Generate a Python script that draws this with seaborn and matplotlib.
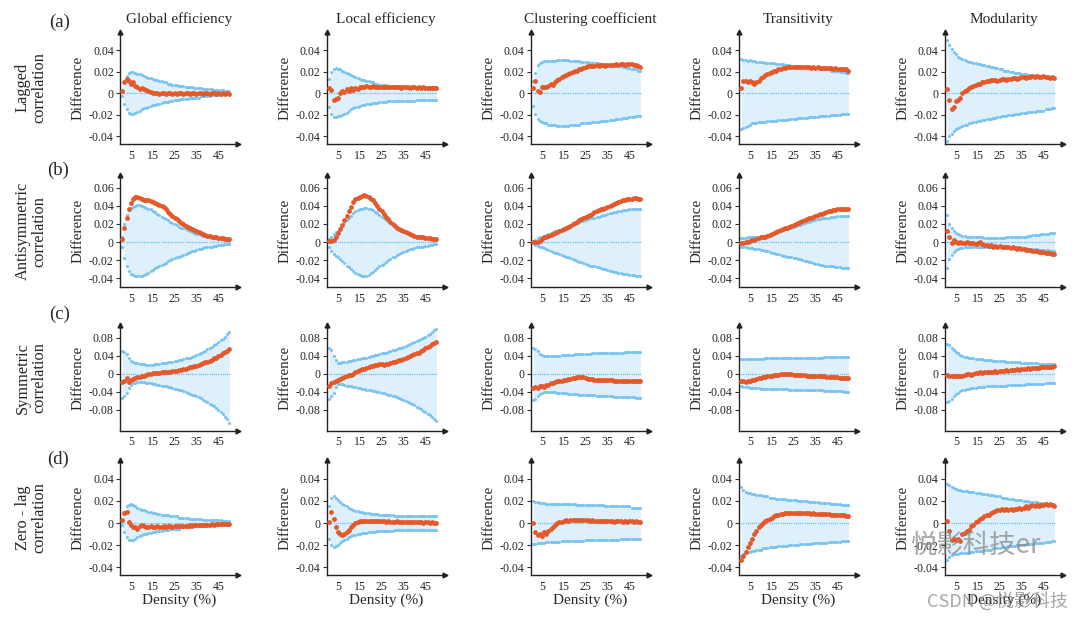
import seaborn as sns
import matplotlib.pyplot as plt

# density (%) on the x axis
density = list(range(1, 51))
null_mean = [0.0] * 50

# (a) lagged correlation
lag_ge_up = [.003,.010,.016,.019,.020,.020,.019,.018,.018,.017,.016,.015,.014,.014,.013,.012,.012,.011,.011,.010,
             .010,.009,.009,.008,.008,.008,.007,.007,.007,.006,.006,.006,.006,.005,.005,.005,.005,.004,.004,.004,
             .004,.004,.003,.003,.003,.003,.003,.002,.002,.002]
lag_ge_lo = [-.003,-.010,-.015,-.018,-.019,-.019,-.018,-.017,-.016,-.015,-.014,-.014,-.013,-.012,-.011,-.011,-.010,-.010,-.009,-.008,
             -.008,-.008,-.007,-.007,-.006,-.006,-.006,-.005,-.005,-.005,-.005,-.004,-.004,-.004,-.004,-.004,-.003,-.003,-.003,-.003,
             -.003,-.002,-.002,-.002,-.002,-.002,-.001,-.001,-.001,-.001]
lag_ge_obs = [.002,.010,.013,.011,.009,.010,.007,.006,.004,.005,.004,.003,.002,.001,.000,.000,.000,-.001,.000,.000,
              -.001,.000,.000,-.001,.000,-.001,.000,.000,-.001,.000,.000,-.001,.000,.000,-.001,.000,.000,-.001,.000,.000,
              -.001,.000,.000,-.001,.000,-.001,.000,-.001,.000,-.001]

lag_le_up = [.013,.020,.022,.023,.022,.022,.021,.020,.019,.018,.017,.016,.015,.014,.013,.012,.012,.011,.011,.010,
             .010,.009,.009,.008,.008,.008,.008,.007,.007,.007,.007,.007,.007,.007,.007,.006,.006,.006,.006,.006,
             .006,.006,.006,.006,.006,.006,.006,.006,.006,.006]
lag_le_lo = [-.013,-.019,-.022,-.022,-.021,-.021,-.020,-.019,-.018,-.016,-.015,-.014,-.013,-.013,-.012,-.011,-.011,-.010,-.010,-.010,
             -.009,-.009,-.009,-.008,-.008,-.008,-.008,-.007,-.007,-.007,-.007,-.007,-.007,-.007,-.007,-.007,-.007,-.007,-.007,-.007,
             -.006,-.006,-.006,-.006,-.006,-.006,-.006,-.006,-.006,-.006]
lag_le_obs = [.005,.003,-.006,-.005,-.004,.000,.002,.001,.004,.002,.005,.003,.005,.004,.006,.006,.006,.007,.006,.006,
              .007,.006,.006,.006,.006,.006,.006,.006,.006,.006,.006,.006,.006,.005,.006,.006,.006,.005,.006,.006,
              .005,.006,.005,.006,.005,.005,.005,.005,.005,.005]

lag_cc_up = [.011,.019,.026,.028,.029,.030,.030,.030,.030,.030,.030,.031,.031,.031,.031,.031,.031,.030,.030,.030,
             .030,.030,.029,.029,.029,.029,.028,.028,.028,.028,.028,.027,.027,.027,.027,.026,.026,.026,.025,.025,
             .025,.024,.024,.023,.023,.022,.022,.022,.021,.021]
lag_cc_lo = [-.012,-.019,-.024,-.026,-.027,-.028,-.028,-.029,-.029,-.029,-.029,-.030,-.030,-.030,-.030,-.030,-.030,-.029,-.029,-.029,
             -.029,-.029,-.028,-.028,-.028,-.028,-.028,-.027,-.027,-.027,-.027,-.026,-.026,-.026,-.026,-.025,-.025,-.025,-.024,-.024,
             -.024,-.023,-.023,-.023,-.022,-.022,-.022,-.021,-.021,-.021]
lag_cc_obs = [.005,.011,.002,.001,.006,.006,.006,.007,.009,.008,.010,.012,.013,.015,.016,.017,.018,.019,.020,.021,
              .021,.022,.022,.023,.024,.025,.025,.025,.025,.026,.025,.026,.026,.025,.026,.026,.026,.026,.027,.026,
              .027,.027,.026,.027,.027,.027,.026,.026,.025,.024]

lag_tr_up = [.032,.031,.031,.030,.031,.030,.030,.029,.029,.029,.029,.028,.028,.028,.028,.028,.027,.027,.027,.027,
             .026,.026,.026,.025,.025,.025,.025,.024,.024,.024,.024,.023,.023,.023,.023,.023,.022,.022,.022,.022,
             .022,.021,.021,.021,.021,.020,.020,.020,.019,.019]
lag_tr_lo = [-.033,-.032,-.031,-.030,-.029,-.028,-.028,-.028,-.027,-.027,-.027,-.027,-.026,-.026,-.026,-.026,-.026,-.025,-.025,-.025,
             -.025,-.025,-.024,-.024,-.024,-.024,-.023,-.023,-.023,-.023,-.023,-.022,-.022,-.022,-.022,-.022,-.021,-.021,-.021,-.021,
             -.021,-.020,-.020,-.020,-.020,-.020,-.019,-.019,-.019,-.019]
lag_tr_obs = [.005,.011,.011,.010,.011,.010,.009,.010,.011,.014,.015,.017,.018,.019,.020,.021,.021,.022,.022,.023,
              .023,.024,.024,.024,.024,.024,.024,.024,.024,.024,.024,.024,.023,.024,.023,.024,.023,.023,.023,.023,
              .023,.023,.022,.023,.022,.022,.022,.022,.022,.021]

lag_mo_up = [.049,.045,.041,.038,.036,.034,.033,.032,.031,.030,.029,.029,.028,.028,.027,.027,.026,.026,.025,.025,
             .024,.024,.023,.023,.022,.022,.021,.021,.021,.020,.020,.019,.019,.019,.018,.018,.018,.017,.017,.017,
             .017,.016,.016,.016,.016,.015,.015,.015,.014,.014]
lag_mo_lo = [-.044,-.040,-.038,-.035,-.033,-.032,-.031,-.030,-.029,-.029,-.028,-.028,-.027,-.027,-.026,-.026,-.025,-.025,-.024,-.024,
             -.024,-.023,-.023,-.022,-.022,-.021,-.021,-.021,-.020,-.020,-.020,-.019,-.019,-.019,-.018,-.018,-.018,-.017,-.017,-.017,
             -.017,-.016,-.016,-.016,-.016,-.015,-.015,-.015,-.014,-.014]
lag_mo_obs = [.004,-.006,-.015,-.013,-.007,-.006,-.004,.000,.002,.003,.005,.006,.007,.008,.009,.009,.010,.010,.011,.011,
              .012,.012,.012,.011,.012,.013,.013,.012,.013,.013,.014,.014,.013,.014,.015,.015,.014,.015,.015,.016,
              .015,.016,.015,.015,.016,.015,.015,.014,.015,.014]

# (b) antisymmetric correlation
anti_ge_up = [.005,.020,.030,.035,.038,.039,.040,.041,.041,.040,.039,.038,.037,.036,.034,.033,.031,.030,.028,.027,
              .025,.024,.022,.021,.020,.019,.017,.016,.015,.014,.013,.012,.011,.010,.009,.009,.008,.007,.007,.006,
              .005,.005,.004,.004,.003,.003,.003,.002,.002,.001]
anti_ge_lo = [-.005,-.018,-.026,-.032,-.035,-.036,-.037,-.038,-.038,-.037,-.036,-.035,-.034,-.032,-.031,-.029,-.028,-.027,-.025,-.024,
              -.023,-.021,-.020,-.019,-.018,-.017,-.016,-.015,-.014,-.013,-.012,-.011,-.010,-.010,-.009,-.008,-.008,-.007,-.006,-.006,
              -.005,-.005,-.004,-.004,-.003,-.003,-.003,-.002,-.002,-.002]
anti_ge_obs = [.003,.016,.026,.037,.043,.048,.050,.050,.049,.047,.046,.046,.046,.045,.044,.043,.042,.041,.040,.039,
               .036,.033,.031,.029,.027,.025,.023,.021,.020,.018,.017,.015,.014,.013,.012,.011,.010,.009,.008,.007,
               .007,.006,.005,.005,.004,.004,.004,.003,.003,.003]

anti_le_up = [.003,.006,.009,.011,.012,.015,.018,.021,.024,.027,.029,.032,.034,.035,.036,.037,.038,.038,.037,.036,
              .035,.033,.032,.030,.028,.026,.024,.023,.021,.019,.018,.016,.015,.013,.012,.011,.010,.009,.008,.007,
              .007,.006,.005,.005,.004,.004,.003,.003,.002,.002]
anti_le_lo = [-.006,-.010,-.013,-.015,-.016,-.019,-.021,-.023,-.026,-.028,-.030,-.032,-.034,-.035,-.036,-.037,-.037,-.037,-.036,-.034,
              -.033,-.031,-.029,-.027,-.025,-.024,-.022,-.020,-.019,-.017,-.016,-.014,-.013,-.012,-.011,-.010,-.009,-.008,-.008,-.007,
              -.006,-.006,-.005,-.005,-.004,-.004,-.003,-.003,-.002,-.002]
anti_le_obs = [.001,.001,.002,.006,.010,.014,.019,.024,.029,.034,.039,.044,.047,.049,.050,.051,.052,.051,.050,.048,
               .046,.043,.040,.037,.034,.031,.028,.025,.022,.020,.018,.016,.014,.013,.012,.011,.010,.009,.008,.007,
               .006,.006,.005,.005,.004,.004,.004,.003,.003,.003]

anti_cc_up = [.000,.002,.004,.005,.006,.007,.008,.009,.010,.011,.012,.012,.013,.014,.015,.016,.017,.018,.020,.021,
              .021,.022,.023,.023,.024,.025,.026,.026,.027,.028,.028,.029,.030,.030,.031,.032,.032,.033,.033,.034,
              .034,.035,.035,.035,.036,.036,.036,.037,.037,.037]
anti_cc_lo = [-.001,-.003,-.004,-.005,-.006,-.007,-.008,-.009,-.010,-.011,-.012,-.012,-.013,-.014,-.015,-.016,-.017,-.018,-.019,-.020,
              -.021,-.022,-.022,-.023,-.024,-.025,-.026,-.026,-.027,-.028,-.028,-.029,-.030,-.030,-.031,-.032,-.032,-.033,-.033,-.034,
              -.034,-.035,-.035,-.035,-.036,-.036,-.036,-.037,-.037,-.037]
anti_cc_obs = [.000,.000,.000,.001,.003,.005,.006,.007,.008,.009,.010,.011,.012,.013,.014,.015,.017,.018,.020,.021,
               .022,.024,.025,.026,.028,.029,.030,.031,.033,.034,.035,.036,.037,.038,.039,.040,.041,.042,.043,.044,
               .045,.046,.046,.047,.047,.048,.049,.049,.048,.048]

anti_tr_up = [.004,.004,.004,.005,.005,.005,.006,.006,.006,.007,.007,.007,.008,.008,.009,.010,.010,.011,.012,.013,
              .014,.014,.015,.016,.017,.018,.019,.019,.020,.021,.022,.022,.023,.024,.024,.025,.025,.026,.026,.027,
              .027,.028,.028,.028,.029,.029,.029,.029,.029,.029]
anti_tr_lo = [-.006,-.006,-.006,-.007,-.007,-.007,-.008,-.008,-.008,-.009,-.009,-.010,-.010,-.011,-.012,-.012,-.013,-.013,-.014,-.015,
              -.015,-.016,-.016,-.017,-.018,-.018,-.019,-.019,-.020,-.021,-.021,-.022,-.022,-.023,-.024,-.024,-.025,-.025,-.026,-.026,
              -.026,-.027,-.027,-.028,-.028,-.028,-.029,-.029,-.029,-.029]
anti_tr_obs = [-.001,-.001,.000,.000,.001,.002,.002,.003,.004,.005,.006,.006,.007,.008,.009,.010,.011,.012,.013,.014,
               .015,.016,.017,.018,.019,.020,.021,.022,.023,.024,.025,.026,.027,.028,.029,.030,.031,.031,.032,.033,
               .034,.034,.035,.035,.036,.036,.037,.037,.036,.036]

anti_mo_up = [.030,.020,.015,.012,.010,.009,.008,.007,.007,.006,.006,.006,.005,.005,.005,.005,.005,.004,.004,.004,
              .004,.004,.004,.004,.004,.004,.004,.005,.005,.005,.005,.005,.005,.006,.006,.006,.006,.007,.007,.008,
              .008,.008,.008,.009,.009,.009,.009,.010,.010,.010]
anti_mo_lo = [-.029,-.019,-.014,-.011,-.009,-.008,-.007,-.007,-.006,-.006,-.006,-.006,-.005,-.005,-.005,-.005,-.005,-.005,-.005,-.005,
              -.005,-.005,-.005,-.005,-.005,-.005,-.005,-.006,-.006,-.006,-.006,-.006,-.006,-.007,-.007,-.007,-.007,-.008,-.008,-.008,
              -.008,-.008,-.009,-.009,-.009,-.009,-.009,-.010,-.010,-.010]
anti_mo_obs = [.012,.005,-.001,.002,.000,-.001,.000,-.001,-.001,.000,-.001,-.001,-.001,-.002,-.001,.000,-.002,-.003,-.003,-.004,
               -.003,-.005,-.004,-.005,-.004,-.006,-.005,-.006,-.006,-.007,-.006,-.007,-.008,-.007,-.008,-.008,-.009,-.009,-.009,-.010,
               -.010,-.010,-.011,-.011,-.011,-.012,-.012,-.012,-.013,-.013]

# (c) symmetric correlation
sym_ge_up = [.050,.048,.043,.035,.028,.025,.024,.023,.022,.021,.021,.020,.020,.020,.020,.021,.021,.022,.023,.024,
             .024,.025,.026,.027,.028,.029,.030,.031,.032,.034,.035,.036,.038,.040,.042,.044,.046,.048,.051,.054,
             .057,.060,.063,.066,.070,.074,.078,.082,.087,.092]
sym_ge_lo = [-.054,-.050,-.043,-.032,-.024,-.021,-.020,-.019,-.019,-.019,-.019,-.020,-.020,-.021,-.022,-.023,-.024,-.025,-.026,-.027,
             -.028,-.029,-.030,-.031,-.033,-.034,-.035,-.036,-.038,-.040,-.042,-.044,-.046,-.048,-.050,-.052,-.054,-.057,-.060,-.063,
             -.066,-.069,-.072,-.076,-.080,-.085,-.090,-.095,-.101,-.108]
sym_ge_obs = [-.018,-.015,-.010,-.018,-.014,-.012,-.010,-.008,-.007,-.005,-.004,-.002,-.001,.000,.001,.001,.002,.002,.003,.003,
              .004,.004,.005,.006,.006,.007,.008,.009,.010,.011,.013,.014,.015,.017,.018,.020,.021,.023,.025,.027,
              .029,.031,.034,.036,.039,.042,.045,.048,.051,.055]

sym_le_up = [.057,.053,.040,.030,.024,.024,.025,.026,.027,.028,.029,.030,.031,.032,.033,.034,.035,.036,.038,.039,
             .040,.041,.042,.044,.045,.046,.047,.049,.050,.052,.053,.055,.056,.058,.060,.062,.064,.066,.068,.070,
             .072,.074,.076,.079,.082,.085,.088,.092,.096,.100]
sym_le_lo = [-.055,-.050,-.042,-.030,-.022,-.022,-.023,-.024,-.026,-.027,-.028,-.029,-.030,-.031,-.032,-.033,-.034,-.035,-.036,-.037,
             -.038,-.039,-.040,-.041,-.042,-.043,-.045,-.046,-.047,-.049,-.050,-.052,-.054,-.056,-.058,-.060,-.062,-.065,-.067,-.070,
             -.073,-.076,-.079,-.082,-.085,-.089,-.092,-.096,-.100,-.105]
sym_le_obs = [-.026,-.020,-.018,-.015,-.013,-.012,-.009,-.007,-.005,-.003,-.002,.000,.004,.006,.008,.010,.011,.013,.015,.017,
              .018,.019,.020,.021,.022,.020,.021,.022,.024,.025,.026,.028,.030,.031,.033,.035,.037,.039,.041,.043,
              .045,.047,.050,.053,.056,.059,.062,.065,.068,.071]

sym_cc_up = [.057,.055,.050,.044,.041,.040,.039,.039,.039,.040,.040,.040,.040,.041,.041,.041,.042,.042,.042,.043,
             .043,.043,.043,.044,.044,.044,.044,.045,.045,.045,.045,.045,.046,.046,.046,.046,.046,.047,.047,.047,
             .047,.047,.048,.048,.048,.048,.048,.049,.049,.049]
sym_cc_lo = [-.059,-.055,-.050,-.045,-.042,-.041,-.040,-.040,-.041,-.041,-.041,-.042,-.042,-.042,-.043,-.043,-.044,-.044,-.044,-.045,
             -.045,-.046,-.046,-.046,-.047,-.047,-.048,-.048,-.048,-.049,-.049,-.049,-.049,-.050,-.050,-.050,-.050,-.051,-.051,-.051,
             -.051,-.051,-.052,-.052,-.052,-.052,-.052,-.053,-.053,-.053]
sym_cc_obs = [-.032,-.030,-.031,-.028,-.027,-.029,-.025,-.024,-.021,-.020,-.019,-.017,-.016,-.015,-.014,-.013,-.012,-.011,-.010,-.009,
              -.008,-.008,-.008,-.008,-.009,-.011,-.012,-.012,-.013,-.013,-.013,-.013,-.014,-.014,-.014,-.014,-.014,-.015,-.015,-.015,
              -.015,-.015,-.016,-.016,-.016,-.016,-.016,-.017,-.017,-.017]

sym_tr_up = [.033,.033,.033,.033,.033,.033,.033,.033,.033,.033,.033,.034,.034,.034,.034,.034,.034,.034,.034,.034,
             .034,.034,.034,.034,.035,.035,.035,.035,.035,.035,.035,.035,.036,.036,.036,.036,.036,.036,.037,.037,
             .037,.037,.037,.037,.038,.038,.038,.038,.038,.038]
sym_tr_lo = [-.028,-.029,-.030,-.030,-.031,-.031,-.032,-.032,-.032,-.033,-.033,-.033,-.033,-.033,-.033,-.034,-.034,-.034,-.034,-.034,
             -.034,-.034,-.035,-.035,-.035,-.035,-.035,-.035,-.036,-.036,-.036,-.036,-.036,-.037,-.037,-.037,-.037,-.037,-.038,-.038,
             -.038,-.038,-.039,-.039,-.039,-.039,-.039,-.040,-.040,-.040]
sym_tr_obs = [-.015,-.017,-.018,-.016,-.015,-.014,-.013,-.011,-.010,-.009,-.008,-.007,-.006,-.005,-.004,-.003,-.002,-.002,-.001,-.001,
              -.001,-.001,-.001,-.001,-.002,-.002,-.002,-.003,-.003,-.003,-.004,-.004,-.004,-.005,-.005,-.005,-.006,-.006,-.006,-.007,
              -.007,-.007,-.008,-.008,-.008,-.009,-.009,-.009,-.009,-.010]

sym_mo_up = [.067,.063,.058,.053,.048,.045,.042,.040,.038,.037,.036,.035,.034,.033,.033,.032,.032,.031,.031,.030,
             .030,.029,.029,.029,.028,.028,.028,.027,.027,.026,.026,.026,.025,.025,.024,.024,.024,.024,.023,.023,
             .023,.023,.022,.022,.022,.022,.021,.021,.021,.021]
sym_mo_lo = [-.063,-.060,-.055,-.050,-.045,-.042,-.039,-.037,-.035,-.034,-.033,-.032,-.031,-.031,-.030,-.030,-.029,-.029,-.028,-.028,
             -.028,-.027,-.027,-.027,-.026,-.026,-.026,-.026,-.025,-.025,-.025,-.025,-.024,-.024,-.024,-.024,-.023,-.023,-.023,-.023,
             -.023,-.022,-.022,-.022,-.022,-.021,-.021,-.021,-.020,-.020]
sym_mo_obs = [-.002,-.005,-.006,-.006,-.006,-.005,-.004,-.004,-.003,.000,-.001,-.002,.000,.002,.001,.003,.002,.004,.003,.005,
              .004,.005,.006,.005,.006,.007,.006,.008,.007,.008,.009,.008,.010,.009,.011,.010,.011,.012,.011,.012,
              .013,.012,.013,.014,.014,.015,.015,.016,.016,.017]

# (d) zero-lag correlation
zero_ge_up = [.002,.010,.015,.016,.017,.016,.015,.014,.013,.012,.012,.011,.010,.010,.009,.009,.008,.008,.007,.007,
              .007,.007,.006,.006,.006,.006,.005,.005,.005,.005,.005,.004,.004,.004,.004,.004,.004,.003,.003,.003,
              .003,.003,.003,.003,.003,.003,.002,.002,.002,.002]
zero_ge_lo = [-.002,-.008,-.013,-.015,-.015,-.015,-.014,-.013,-.012,-.011,-.010,-.010,-.009,-.009,-.008,-.008,-.007,-.007,-.007,-.006,
              -.006,-.006,-.005,-.005,-.005,-.005,-.005,-.004,-.004,-.004,-.004,-.004,-.003,-.003,-.003,-.003,-.003,-.003,-.002,-.002,
              -.002,-.002,-.002,-.002,-.002,-.002,-.001,-.001,-.001,-.001]
zero_ge_obs = [.003,.009,.010,.001,-.002,-.004,-.004,-.005,-.003,-.002,-.003,-.004,-.004,-.003,-.004,-.004,-.003,-.004,-.004,-.003,
               -.004,-.003,-.003,-.004,-.003,-.003,-.003,-.003,-.003,-.003,-.003,-.002,-.003,-.002,-.002,-.002,-.002,-.002,-.002,-.002,
               -.002,-.001,-.002,-.001,-.001,-.001,-.001,-.001,-.001,-.001]

zero_le_up = [.015,.023,.024,.023,.021,.019,.017,.016,.015,.014,.013,.012,.011,.011,.010,.010,.009,.009,.009,.008,
              .008,.008,.008,.007,.007,.007,.007,.007,.007,.007,.006,.006,.006,.006,.006,.006,.006,.006,.006,.006,
              .006,.006,.006,.006,.006,.006,.006,.006,.006,.006]
zero_le_lo = [-.014,-.020,-.022,-.021,-.020,-.018,-.016,-.015,-.014,-.013,-.012,-.011,-.011,-.010,-.010,-.009,-.009,-.009,-.008,-.008,
              -.008,-.008,-.007,-.007,-.007,-.007,-.007,-.007,-.007,-.007,-.006,-.006,-.006,-.006,-.006,-.006,-.006,-.006,-.006,-.006,
              -.006,-.006,-.006,-.006,-.006,-.006,-.006,-.006,-.006,-.006]
zero_le_obs = [.001,.010,.004,-.004,-.008,-.010,-.011,-.010,-.008,-.006,-.004,-.002,.000,.001,.002,.002,.002,.002,.002,.002,
               .002,.002,.002,.002,.002,.002,.001,.002,.001,.001,.001,.002,.001,.001,.001,.001,.001,.001,.001,.001,
               .001,.001,.001,.000,.001,.001,.000,.001,.000,.000]

zero_cc_up = [.020,.019,.019,.018,.018,.018,.017,.017,.017,.017,.017,.017,.017,.017,.017,.017,.017,.017,.017,.017,
              .016,.016,.016,.016,.016,.016,.016,.016,.016,.016,.016,.016,.016,.015,.015,.015,.015,.015,.015,.015,
              .015,.015,.015,.015,.015,.014,.014,.014,.014,.014]
zero_cc_lo = [-.019,-.019,-.018,-.018,-.018,-.018,-.017,-.017,-.017,-.017,-.017,-.017,-.017,-.016,-.016,-.016,-.016,-.016,-.016,-.016,
              -.016,-.016,-.016,-.016,-.015,-.015,-.015,-.015,-.015,-.015,-.015,-.015,-.015,-.015,-.015,-.015,-.015,-.015,-.015,-.015,
              -.014,-.014,-.014,-.014,-.014,-.014,-.014,-.014,-.014,-.014]
zero_cc_obs = [.000,-.008,-.011,-.010,-.012,-.008,-.010,-.007,-.005,-.004,-.002,.000,.001,.001,.002,.003,.002,.003,.003,.003,
               .003,.003,.003,.003,.003,.003,.002,.003,.002,.002,.002,.002,.002,.002,.002,.002,.002,.001,.002,.002,
               .002,.001,.002,.001,.002,.002,.001,.002,.001,.001]

zero_tr_up = [.033,.030,.028,.027,.027,.026,.026,.025,.025,.025,.024,.024,.024,.023,.023,.023,.022,.022,.022,.022,
              .022,.021,.021,.021,.021,.021,.020,.020,.020,.020,.020,.019,.019,.019,.019,.019,.018,.018,.018,.018,
              .018,.017,.017,.017,.017,.017,.016,.016,.016,.016]
zero_tr_lo = [-.030,-.028,-.027,-.026,-.026,-.025,-.025,-.024,-.024,-.024,-.023,-.023,-.023,-.022,-.022,-.022,-.022,-.021,-.021,-.021,
              -.021,-.021,-.020,-.020,-.020,-.020,-.020,-.019,-.019,-.019,-.019,-.019,-.019,-.018,-.018,-.018,-.018,-.018,-.018,-.018,
              -.017,-.017,-.017,-.017,-.017,-.017,-.016,-.016,-.016,-.016]
zero_tr_obs = [-.033,-.030,-.026,-.022,-.018,-.014,-.010,-.007,-.004,-.002,.000,.002,.003,.004,.005,.006,.007,.007,.008,.008,
               .009,.009,.009,.009,.009,.009,.009,.009,.009,.009,.009,.009,.008,.009,.008,.008,.008,.008,.008,.008,
               .008,.007,.007,.007,.007,.007,.007,.007,.006,.006]

zero_mo_up = [.035,.034,.033,.032,.031,.030,.030,.029,.029,.029,.028,.028,.028,.027,.027,.027,.026,.026,.026,.025,
              .025,.025,.024,.024,.024,.023,.023,.023,.022,.022,.022,.021,.021,.021,.021,.020,.020,.020,.019,.019,
              .019,.019,.018,.018,.018,.018,.017,.017,.017,.017]
zero_mo_lo = [-.033,-.031,-.029,-.028,-.028,-.028,-.027,-.027,-.027,-.027,-.026,-.026,-.026,-.025,-.025,-.025,-.025,-.024,-.024,-.024,
              -.024,-.023,-.023,-.023,-.023,-.022,-.022,-.022,-.021,-.021,-.021,-.021,-.020,-.020,-.020,-.020,-.019,-.019,-.019,-.019,
              -.018,-.018,-.018,-.018,-.018,-.017,-.017,-.017,-.016,-.016]
zero_mo_obs = [.002,-.007,-.015,-.014,-.015,-.014,-.016,-.010,-.009,-.007,-.006,-.003,-.002,.001,.002,.004,.005,.006,.007,.007,
               .009,.010,.011,.012,.012,.013,.012,.013,.012,.013,.012,.013,.013,.014,.013,.014,.015,.014,.015,.016,
               .015,.016,.015,.016,.016,.017,.016,.017,.016,.015]

metrics = ["Global efficiency", "Local efficiency", "Clustering coefficient", "Transitivity", "Modularity"]
row_names = ["Lagged\ncorrelation", "Antisymmetric\ncorrelation", "Symmetric\ncorrelation", "Zero - lag\ncorrelation"]
row_tags = ["(a)", "(b)", "(c)", "(d)"]
x_ticks = [5, 15, 25, 35, 45]
row_yticks = [[-0.04, -0.02, 0, 0.02, 0.04],
              [-0.04, -0.02, 0, 0.02, 0.04, 0.06],
              [-0.08, -0.04, 0, 0.04, 0.08],
              [-0.04, -0.02, 0, 0.02, 0.04]]

panels = [
    [(lag_ge_up, lag_ge_lo, lag_ge_obs), (lag_le_up, lag_le_lo, lag_le_obs), (lag_cc_up, lag_cc_lo, lag_cc_obs),
     (lag_tr_up, lag_tr_lo, lag_tr_obs), (lag_mo_up, lag_mo_lo, lag_mo_obs)],
    [(anti_ge_up, anti_ge_lo, anti_ge_obs), (anti_le_up, anti_le_lo, anti_le_obs), (anti_cc_up, anti_cc_lo, anti_cc_obs),
     (anti_tr_up, anti_tr_lo, anti_tr_obs), (anti_mo_up, anti_mo_lo, anti_mo_obs)],
    [(sym_ge_up, sym_ge_lo, sym_ge_obs), (sym_le_up, sym_le_lo, sym_le_obs), (sym_cc_up, sym_cc_lo, sym_cc_obs),
     (sym_tr_up, sym_tr_lo, sym_tr_obs), (sym_mo_up, sym_mo_lo, sym_mo_obs)],
    [(zero_ge_up, zero_ge_lo, zero_ge_obs), (zero_le_up, zero_le_lo, zero_le_obs), (zero_cc_up, zero_cc_lo, zero_cc_obs),
     (zero_tr_up, zero_tr_lo, zero_tr_obs), (zero_mo_up, zero_mo_lo, zero_mo_obs)],
]

ORANGE = "#E4582A"
BLUE = "#7CC4F0"
FILL = "#DDF0FC"

sns.set_style("ticks")
plt.rcParams["font.family"] = ["Liberation Serif", "DejaVu Serif"]

W, H = 1080, 619
fig = plt.figure(figsize=(W / 100, H / 100), dpi=100)

# panel frames in pixels
col_x = [120, 327, 531, 739, 945]
ax_w = 118
row_y = [(31.7, 144), (175, 287.3), (325, 430.7), (460, 575)]
row_ylim = [(-0.047, 0.057), (-0.050, 0.074), (-0.126, 0.108), (-0.047, 0.057)]
tag_pos = [(60, 22), (58, 170), (60, 314), (58, 459)]

for r in range(4):
    top, bot = row_y[r]
    for c in range(5):
        ax = fig.add_axes([col_x[c] / W, 1 - bot / H, ax_w / W, (bot - top) / H])
        up, lo, obs = panels[r][c]
        ax.fill_between(density, lo, up, color=FILL, lw=0, zorder=1)
        sns.scatterplot(x=density, y=null_mean, ax=ax, color=BLUE, s=1.2, linewidth=0, zorder=2)
        sns.scatterplot(x=density, y=up, ax=ax, color=BLUE, s=5, linewidth=0, zorder=2)
        sns.scatterplot(x=density, y=lo, ax=ax, color=BLUE, s=5, linewidth=0, zorder=2)
        sns.scatterplot(x=density, y=obs, ax=ax, color=ORANGE, s=12, linewidth=0, zorder=3)

        ax.set_xlim(0, 54)
        ax.set_ylim(*row_ylim[r])
        ax.set_xticks(x_ticks)
        ax.set_xticklabels([str(t) for t in x_ticks])
        ax.set_yticks(row_yticks[r])
        ax.set_yticklabels([f"{t:g}" for t in row_yticks[r]])
        ax.tick_params(axis="y", length=3, width=0.8, pad=1.5, labelsize=8.6, color="#333333")
        ax.tick_params(axis="x", length=0, pad=4, labelsize=8.6)
        sns.despine(ax=ax)
        for side in ["left", "bottom"]:
            ax.spines[side].set_linewidth(1.0)
            ax.spines[side].set_color("#222222")
        ax.plot(1, 0, ">", color="#222222", ms=3.5, transform=ax.transAxes, clip_on=False)
        ax.plot(0, 1, "^", color="#222222", ms=3.5, transform=ax.transAxes, clip_on=False)
        ax.set_ylabel("Difference", fontsize=10.8, labelpad=3)
        ax.set_xlabel("Density (%)" if r == 3 else "", fontsize=11, labelpad=1)
        if r == 0:
            ax.set_title(metrics[c], fontsize=11, pad=6)

    mid = (top + bot) / 2
    fig.text(31 / W, 1 - mid / H, row_names[r], rotation=90, ha="center", va="center",
             fontsize=11.8, linespacing=1.0, multialignment="center")
    tx, ty = tag_pos[r]
    fig.text(tx / W, 1 - ty / H, row_tags[r], ha="center", va="center", fontsize=13.5)

# watermark text seen on the image
fig.text(975 / W, 1 - 545 / H, "悦影科技er", ha="center", va="center", fontsize=19,
         color="#8a8a8a", alpha=0.75, family=["Noto Sans CJK SC", "DejaVu Sans"])
fig.text(997 / W, 1 - 601 / H, "CSDN @悦影科技", ha="center", va="center", fontsize=13,
         color="#8a8a8a", alpha=0.75, family=["Noto Sans CJK SC", "DejaVu Sans"])

fig.savefig("out.png", dpi=100)
